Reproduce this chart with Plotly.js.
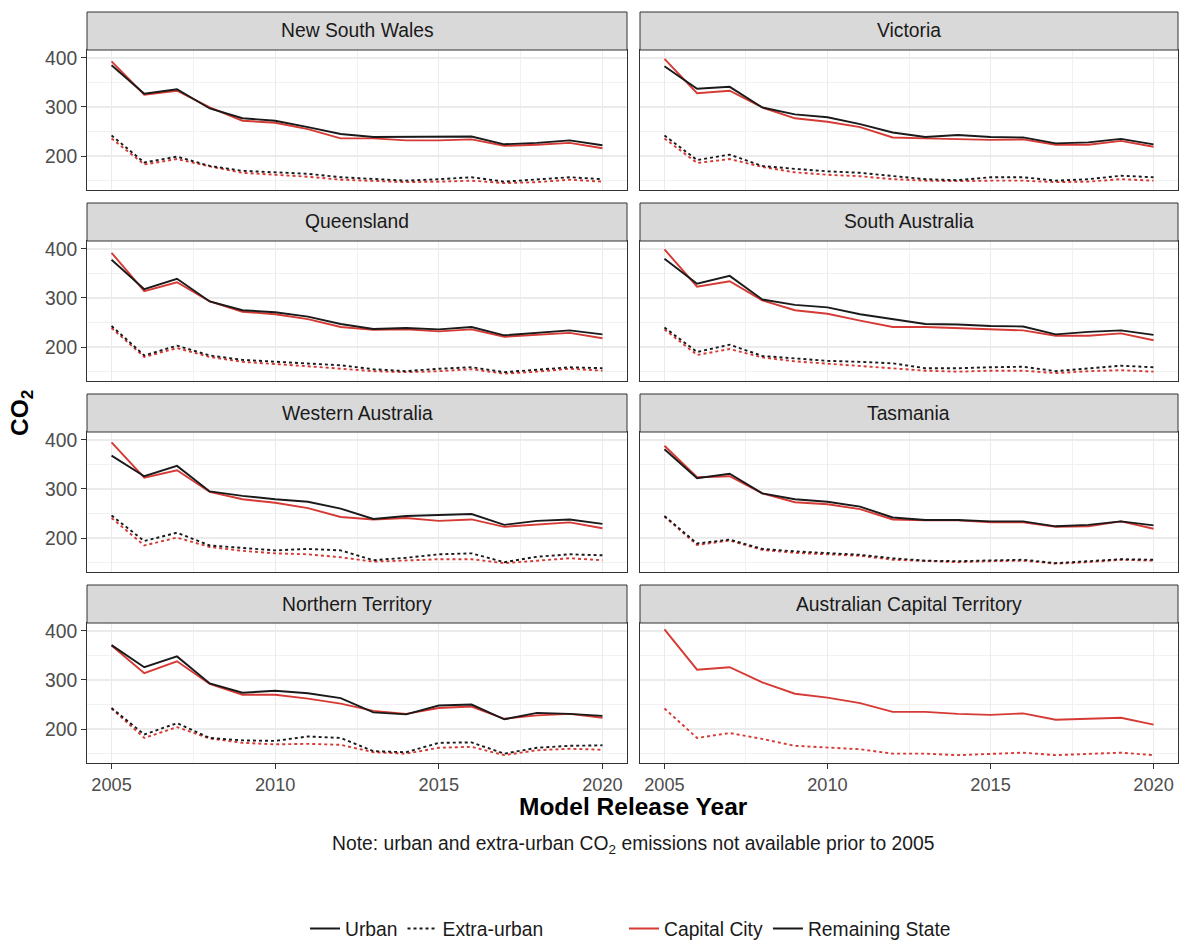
<!DOCTYPE html>
<html>
<head>
<meta charset="utf-8">
<script src="https://cdn.plot.ly/plotly-3.0.1.min.js"></script>
<style>html,body{margin:0;padding:0;background:#fff;overflow:hidden;}#chart{width:1179px;height:941px;}</style>
</head>
<body>
<div id="chart"></div>
<script>
// ---------------- DATA ----------------
const years = [2005,2006,2007,2008,2009,2010,2011,2012,2013,2014,2015,2016,2017,2018,2019,2020];
const states = ["New South Wales","Victoria","Queensland","South Australia","Western Australia","Tasmania","Northern Territory","Australian Capital Territory"];
const xTickVals = [2005,2010,2015,2020];
const yTickVals = [200,300,400];

const nswCapUrban = [393,325,333,299,272,268,255,236,236,232,232,234,221,223,227,216];
const nswCapExtra = [236,183,194,179,166,162,158,152,150,147,148,150,145,147,152,148];
const nswRemUrban = [385,327,336,297,277,272,259,245,239,239,239,240,224,227,232,222];
const nswRemExtra = [242,187,199,180,170,167,164,157,153,150,153,157,148,152,157,153];

const vicCapUrban = [398,328,333,299,277,270,259,238,236,235,233,234,223,223,231,219];
const vicCapExtra = [236,186,194,178,167,162,159,153,150,149,150,150,147,148,153,150];
const vicRemUrban = [383,337,341,299,285,279,265,248,239,243,239,238,226,228,235,224];
const vicRemExtra = [242,192,203,180,174,169,166,160,153,151,157,157,150,153,160,157];

const qldCapUrban = [392,314,332,293,272,267,257,241,235,236,232,236,221,225,229,218];
const qldCapExtra = [239,180,198,180,170,166,161,156,151,149,151,155,146,150,156,152];
const qldRemUrban = [378,318,339,293,275,271,262,247,237,239,236,241,224,229,234,226];
const qldRemExtra = [243,183,203,183,174,170,166,163,155,151,156,159,149,154,159,157];

const saCapUrban = [399,323,334,295,275,268,254,241,241,239,236,234,223,223,228,214];
const saCapExtra = [236,184,196,179,171,166,162,157,152,150,152,152,147,151,153,150];
const saRemUrban = [380,329,345,297,286,281,267,257,247,246,243,242,226,231,234,225];
const saRemExtra = [240,190,205,182,177,172,170,167,157,157,159,160,151,157,162,159];

const waCapUrban = [395,323,338,294,279,272,261,243,238,241,235,238,223,228,232,220];
const waCapExtra = [241,185,201,182,174,169,167,161,152,154,157,157,149,154,159,155];
const waRemUrban = [368,326,347,295,286,279,274,260,239,245,247,249,227,235,238,229];
const waRemExtra = [246,194,211,185,180,175,178,175,155,160,167,169,151,162,167,165];

const tasCapUrban = [388,324,326,291,273,269,259,238,236,236,232,232,223,224,234,219];
const tasCapExtra = [244,186,195,176,170,167,164,156,153,151,153,154,148,151,156,154];
const tasRemUrban = [381,322,331,291,279,274,264,242,237,237,234,234,224,227,234,226];
const tasRemExtra = [245,189,197,178,173,170,166,159,154,153,154,156,149,153,157,156];

const ntCapUrban = [370,314,338,292,270,270,262,252,237,231,243,246,221,228,231,223];
const ntCapExtra = [242,182,204,181,172,169,170,168,153,150,162,164,147,157,160,158];
const ntRemUrban = [371,326,348,293,274,278,273,263,234,230,248,250,220,233,231,227];
const ntRemExtra = [243,189,212,182,177,176,185,182,155,153,172,173,150,162,166,167];

const actCapUrban = [403,321,326,295,272,264,253,235,235,231,229,232,219,221,223,209];
const actCapExtra = [242,182,192,180,166,162,159,150,150,147,150,152,147,149,152,147];

// ---------------- BUILD ----------------
const panelData = [
  {cu: nswCapUrban, ce: nswCapExtra, ru: nswRemUrban, re: nswRemExtra},
  {cu: vicCapUrban, ce: vicCapExtra, ru: vicRemUrban, re: vicRemExtra},
  {cu: qldCapUrban, ce: qldCapExtra, ru: qldRemUrban, re: qldRemExtra},
  {cu: saCapUrban, ce: saCapExtra, ru: saRemUrban, re: saRemExtra},
  {cu: waCapUrban, ce: waCapExtra, ru: waRemUrban, re: waRemExtra},
  {cu: tasCapUrban, ce: tasCapExtra, ru: tasRemUrban, re: tasRemExtra},
  {cu: ntCapUrban, ce: ntCapExtra, ru: ntRemUrban, re: ntRemExtra},
  {cu: actCapUrban, ce: actCapExtra, ru: null, re: null}
];

const W = 1179, H = 941;
const RED = "#d63a34", BLACK = "#1a1a1a";
const FONT = "Liberation Sans, Arial, Helvetica, sans-serif";
const LW = 1.9;
const FS = 19.3;
const TFS = 18.2;

const colX = [[87, 627], [640, 1178]];
const rowPlot = [[50,190],[241,381],[432,572],[623,763]];
const rowStrip = [[12,50],[203,241],[394,432],[585,623]];

const px = v => v / W;
const py = v => 1 - v / H;

const traces = [];
const layout = {
  width: W, height: H,
  margin: {l:0, r:0, t:0, b:0, autoexpand: false},
  paper_bgcolor: "#ffffff",
  plot_bgcolor: "#ffffff",
  showlegend: true,
  font: {family: FONT, color: "#4D4D4D", size: FS},
  shapes: [],
  annotations: []
};

panelData.forEach((d, i) => {
  const row = Math.floor(i / 2), col = i % 2;
  const n = i + 1;
  const xa = n === 1 ? "x" : "x" + n;
  const ya = n === 1 ? "y" : "y" + n;
  const xKey = n === 1 ? "xaxis" : "xaxis" + n;
  const yKey = n === 1 ? "yaxis" : "yaxis" + n;
  const bottom = row === 3, left = col === 0;

  layout[xKey] = {
    domain: [px(colX[col][0]), px(colX[col][1])],
    anchor: ya,
    range: [2004.25, 2020.75],
    tickmode: "array", tickvals: xTickVals,
    showticklabels: bottom,
    ticks: bottom ? "outside" : "",
    ticklen: 5, tickwidth: 1, tickcolor: "#333333",
    tickfont: {family: FONT, size: TFS, color: "#4D4D4D"},
    showgrid: true, gridcolor: "#EBEBEB", gridwidth: 1.3,
    minor: {tickmode: "array", tickvals: [2007.5, 2012.5, 2017.5], showgrid: true, gridcolor: "#EFEFEF", gridwidth: 0.9, ticks: ""},
    zeroline: false,
    showline: true, linecolor: "#333333", linewidth: 1, mirror: true,
    automargin: false,
    fixedrange: true
  };
  layout[yKey] = {
    domain: [py(rowPlot[row][1]), py(rowPlot[row][0])],
    anchor: xa,
    range: [131, 416],
    tickmode: "array", tickvals: yTickVals,
    showticklabels: left,
    ticks: left ? "outside" : "",
    ticklen: 5, tickwidth: 1, tickcolor: "#333333",
    tickfont: {family: FONT, size: FS, color: "#4D4D4D"},
    showgrid: true, gridcolor: "#EBEBEB", gridwidth: 1.3,
    minor: {tickmode: "array", tickvals: [150, 250, 350], showgrid: true, gridcolor: "#EFEFEF", gridwidth: 0.9, ticks: ""},
    zeroline: false,
    showline: true, linecolor: "#333333", linewidth: 1, mirror: true,
    automargin: false,
    fixedrange: true
  };

  const series = [
    {y: d.cu, color: RED, dash: "solid"},
    {y: d.ce, color: RED, dash: "dot"},
    {y: d.ru, color: BLACK, dash: "solid"},
    {y: d.re, color: BLACK, dash: "dot"}
  ];
  series.forEach(s => {
    if (!s.y) return;
    traces.push({
      type: "scatter", mode: "lines",
      x: years, y: s.y, xaxis: xa, yaxis: ya,
      line: {color: s.color, width: LW, dash: s.dash},
      showlegend: false, hoverinfo: "skip"
    });
  });

  // strip
  layout.shapes.push({
    type: "rect", xref: "paper", yref: "paper",
    x0: px(colX[col][0]), x1: px(colX[col][1]),
    y0: py(rowStrip[row][1]), y1: py(rowStrip[row][0]),
    fillcolor: "#D9D9D9", line: {color: "#333333", width: 1}
  });
  layout.annotations.push({
    xref: "paper", yref: "paper",
    x: px((colX[col][0] + colX[col][1]) / 2),
    y: py((rowStrip[row][0] + rowStrip[row][1]) / 2),
    text: states[i], showarrow: false,
    xanchor: "center", yanchor: "middle",
    font: {family: FONT, size: FS, color: "#1A1A1A"}
  });
});

// axis titles & note
layout.annotations.push({
  xref: "paper", yref: "paper", x: px(633), y: py(806),
  text: "<b>Model Release Year</b>", showarrow: false,
  xanchor: "center", yanchor: "middle",
  font: {family: FONT, size: 24.5, color: "#000000"}
});
layout.annotations.push({
  xref: "paper", yref: "paper", x: px(633), y: py(845),
  text: "Note: urban and extra-urban CO<sub>2</sub> emissions not available prior to 2005", showarrow: false,
  xanchor: "center", yanchor: "middle",
  font: {family: FONT, size: FS, color: "#1A1A1A"}
});
layout.annotations.push({
  xref: "paper", yref: "paper", x: px(21), y: py(413),
  text: "<b>CO<sub>2</sub></b>", showarrow: false, textangle: -90,
  xanchor: "center", yanchor: "middle",
  font: {family: FONT, size: 24.5, color: "#000000"}
});

// legend entries
const legendItems = [
  {name: "Urban", color: BLACK, dash: "solid", legend: "legend"},
  {name: "Extra-urban", color: BLACK, dash: "dot", legend: "legend"},
  {name: "Capital City", color: RED, dash: "solid", legend: "legend2"},
  {name: "Remaining State", color: BLACK, dash: "solid", legend: "legend2"}
];
legendItems.forEach(it => {
  traces.push({
    type: "scatter", mode: "lines", x: [null], y: [null],
    name: it.name, legend: it.legend,
    line: {color: it.color, width: LW, dash: it.dash},
    hoverinfo: "skip"
  });
});
const legendCommon = {
  orientation: "h", yanchor: "middle", y: py(929), xanchor: "left",
  font: {family: FONT, size: FS, color: "#1A1A1A"},
  bgcolor: "rgba(0,0,0,0)", borderwidth: 0, itemwidth: 30,
  traceorder: "normal", itemclick: false, itemdoubleclick: false
};
layout.legend = Object.assign({}, legendCommon, {x: px(305)});
layout.legend2 = Object.assign({}, legendCommon, {x: px(624)});

Plotly.newPlot("chart", traces, layout, {staticPlot: true, displayModeBar: false});
</script>
</body>
</html>
